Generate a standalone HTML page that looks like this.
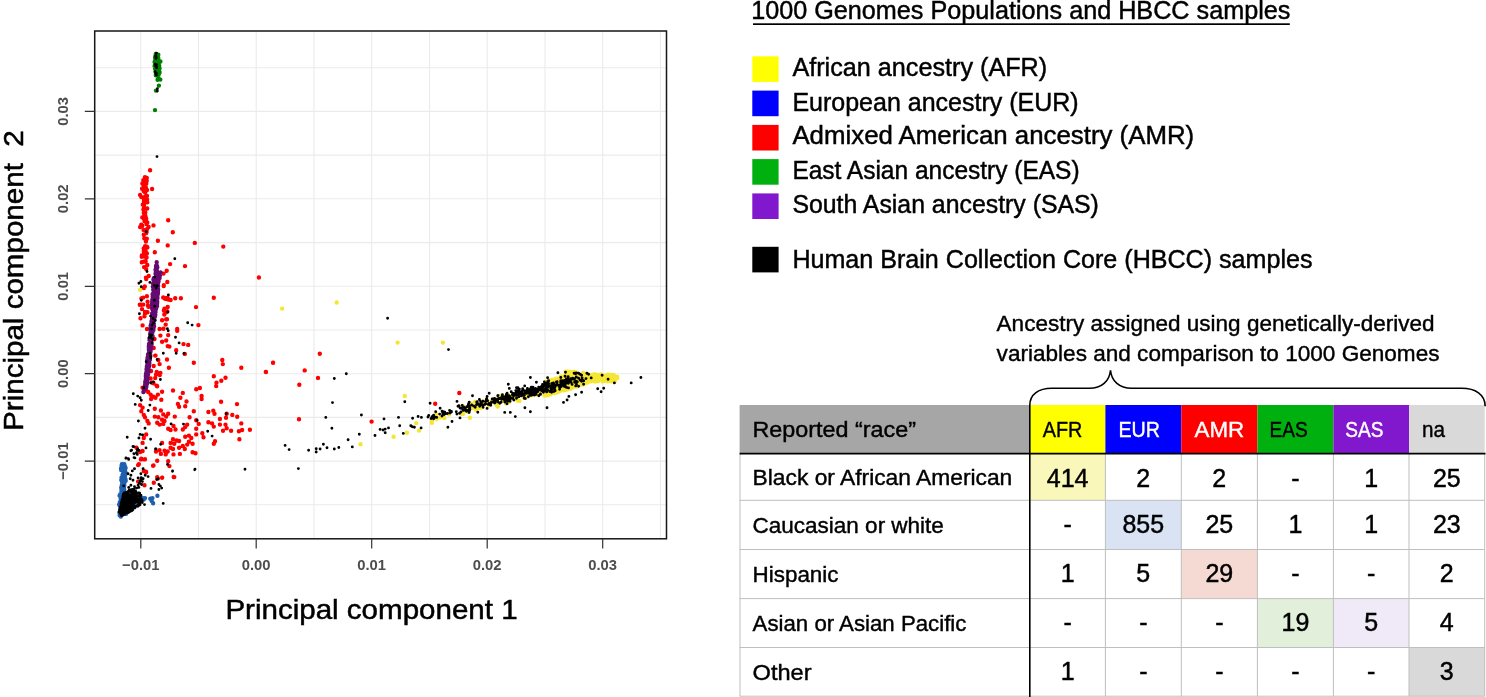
<!DOCTYPE html>
<html lang="en"><head><meta charset="utf-8"><title>PCA ancestry figure</title>
<style>html,body{margin:0;padding:0;background:#fff}body{width:1486px;height:697px;overflow:hidden}svg{display:block}text{font-family:"Liberation Sans",sans-serif;fill:#000}.tk{font-weight:bold;font-size:14.8px;fill:#4d4d4d;text-anchor:middle}.ax{font-size:28px}.lg{font-size:25px}.tb{font-size:22px}.nm{font-size:25px;text-anchor:middle}.ax,.lg,.tb,.nm{stroke:#000;stroke-width:.45px}.ax{stroke-width:.5px}.tb{stroke-width:.4px}.w{fill:#fff;stroke:#fff}</style></head><body>
<svg width="1486" height="697" viewBox="0 0 1486 697">
<rect width="1486" height="697" fill="#fff"/>
<path d="M140.8 31.0V538.8M198.5 31.0V538.8M256.2 31.0V538.8M314.0 31.0V538.8M371.7 31.0V538.8M429.5 31.0V538.8M487.2 31.0V538.8M545.0 31.0V538.8M602.7 31.0V538.8M660.5 31.0V538.8M94.7 504.8H666.5M94.7 461.1H666.5M94.7 417.4H666.5M94.7 373.7H666.5M94.7 330.0H666.5M94.7 286.3H666.5M94.7 242.6H666.5M94.7 198.8H666.5M94.7 155.1H666.5M94.7 111.4H666.5M94.7 67.7H666.5" stroke="#ebebeb" stroke-width="1.1" fill="none"/>
<path d="M140.1 289.8h0M282.1 308.6h0M336.7 302.5h0M397.6 342.6h0M442.8 342.6h0M404.8 396.0h0M360.5 444.2h0M393.6 436.7h0M406.9 432.7h0M416.2 423.1h0M419.0 430.6h0M431.9 422.8h0M469.9 417.7h0M463.0 414.0h0M482.0 407.3h0M475.1 401.8h0M506.6 398.1h0M491.5 402.1h0M516.3 395.5h0M516.5 393.9h0M496.4 401.9h0M534.5 393.4h0M536.8 393.6h0M528.9 393.9h0M479.3 404.7h0M536.4 394.2h0M533.0 394.8h0M542.7 389.2h0M486.6 400.3h0M484.4 402.6h0M496.7 405.2h0M480.3 408.1h0M476.3 405.8h0M517.9 400.5h0M508.5 401.5h0M482.4 401.4h0M509.4 399.6h0M477.2 407.9h0M471.4 404.5h0M519.5 400.9h0M472.3 408.1h0M509.0 402.2h0M467.2 411.6h0M514.9 399.3h0M471.7 407.9h0M513.9 395.8h0M509.0 395.4h0M497.8 406.5h0M500.1 395.9h0M547.0 389.3h0M528.9 390.4h0M518.0 395.8h0M544.6 395.3h0M483.0 403.9h0M512.2 396.3h0M529.9 394.9h0M483.4 403.9h0M500.4 397.7h0M523.7 394.3h0M547.9 382.5h0M531.4 393.6h0M506.1 403.2h0M543.1 389.0h0M467.1 409.6h0M504.0 397.7h0M473.7 406.6h0M505.2 401.0h0M501.8 401.0h0M493.9 398.9h0M497.2 401.3h0M476.1 409.8h0M545.5 391.2h0M488.3 402.0h0M526.6 396.8h0M505.9 399.5h0M476.0 406.2h0M482.1 403.1h0M497.0 403.3h0M545.2 387.7h0M545.0 392.2h0M518.3 392.7h0M492.8 399.6h0M468.0 411.7h0M513.3 397.0h0M470.5 407.8h0M518.4 394.2h0M488.5 405.4h0M487.9 402.2h0M539.2 392.5h0M505.4 401.6h0M546.4 392.0h0M531.1 395.2h0M471.2 403.8h0M524.2 397.8h0M461.7 413.8h0M444.3 418.0h0M462.6 405.6h0M449.1 414.4h0M440.3 417.4h0M432.0 420.1h0M436.6 418.9h0M464.5 407.6h0M436.0 414.5h0M434.3 417.7h0M556.3 380.5h0M578.2 374.3h0M567.0 388.7h0M549.1 386.9h0M563.1 389.4h0M554.3 393.1h0M551.8 387.2h0M602.5 376.4h0M617.3 377.9h0M560.9 377.6h0M549.7 394.3h0M570.4 371.9h0M551.3 386.3h0M568.4 383.7h0M553.0 380.1h0M563.6 390.4h0M552.8 381.3h0M607.8 374.6h0M589.3 378.9h0M582.5 375.5h0M592.6 374.9h0M584.7 383.5h0M587.2 378.9h0M576.3 386.5h0M591.5 378.4h0M567.9 384.2h0M545.5 385.9h0M565.5 381.0h0M583.6 381.6h0M581.2 375.8h0M613.8 375.2h0M591.0 380.5h0M594.5 377.4h0M594.8 376.9h0M587.5 375.6h0M563.1 384.8h0M578.9 376.2h0M580.3 377.1h0M558.7 385.3h0M600.7 374.5h0M546.7 393.1h0M588.8 374.8h0M550.5 391.8h0M569.4 386.7h0M596.4 374.7h0M551.8 382.3h0M568.7 379.5h0M547.4 390.2h0M580.6 381.5h0M580.6 381.0h0M564.5 385.4h0M561.0 383.7h0M593.0 376.1h0M601.4 375.0h0M601.8 379.5h0M553.6 391.6h0M572.6 371.9h0M570.2 388.7h0M565.1 383.9h0M606.5 377.4h0M570.9 386.4h0M549.2 390.3h0M583.8 375.9h0M560.6 381.9h0M582.3 377.1h0M549.5 394.1h0M607.7 381.3h0M575.6 379.9h0M568.3 385.4h0M549.5 393.3h0M571.1 388.0h0M558.5 378.8h0M557.3 383.0h0M548.4 385.3h0M570.7 386.1h0M576.7 385.9h0M564.6 380.9h0M554.5 386.3h0M547.4 382.9h0M563.4 386.7h0M576.4 378.0h0M582.7 384.0h0M558.2 386.0h0M570.1 371.9h0M613.0 377.7h0M567.6 376.2h0M596.7 377.6h0M550.4 382.2h0M557.7 387.8h0M561.4 378.6h0M587.0 381.2h0M576.8 377.4h0M591.5 379.9h0M571.7 375.7h0M559.6 387.6h0M545.8 395.4h0M575.6 380.2h0M564.4 388.3h0M565.9 376.2h0M605.8 379.1h0M585.3 374.1h0M580.2 383.0h0M559.1 382.2h0M603.7 379.0h0M546.4 391.3h0M581.0 378.6h0M585.4 378.5h0M587.1 376.2h0M558.9 388.5h0M556.1 378.8h0M545.6 390.7h0M579.4 377.8h0M549.6 383.4h0M596.2 379.3h0M609.0 374.7h0M578.6 383.8h0M560.7 387.9h0M584.1 377.6h0M595.3 379.3h0M584.4 374.2h0M550.9 392.7h0M608.4 379.8h0M607.9 376.9h0M577.4 384.5h0M573.2 375.3h0M570.9 379.8h0M565.4 389.7h0M559.4 380.7h0M582.5 376.1h0M582.0 376.5h0M561.4 377.5h0M550.6 384.5h0M557.6 388.4h0M604.3 377.4h0M565.0 388.1h0M600.9 378.8h0M571.9 380.4h0M593.6 380.4h0M556.0 390.9h0M614.8 380.9h0M559.0 388.9h0M544.5 386.7h0M550.3 385.1h0M583.2 376.6h0M560.4 386.1h0M568.1 381.6h0M605.5 380.5h0M561.7 381.8h0M554.4 389.9h0M545.2 389.3h0M597.2 377.7h0M549.4 384.1h0M587.8 375.5h0M598.7 378.3h0M590.9 378.0h0M590.3 380.2h0M609.8 379.6h0M581.1 375.4h0M544.5 395.6h0M559.3 378.9h0M571.7 387.5h0M552.2 383.4h0M594.5 379.4h0M567.7 372.3h0M569.3 377.0h0M554.0 386.0h0M545.1 387.9h0M603.1 378.3h0M567.1 376.8h0M595.3 381.5h0M607.2 378.8h0M594.1 377.7h0M564.0 379.9h0M577.9 380.4h0M610.2 376.5h0M557.7 390.5h0M612.4 377.2h0M566.6 375.6h0M581.4 375.9h0M555.5 383.5h0M550.8 381.4h0M566.3 372.3h0M600.1 375.0h0M592.1 379.1h0M594.0 377.7h0M590.2 380.7h0M564.7 376.0h0M544.4 394.2h0M597.5 378.0h0M578.2 381.8h0M552.9 383.9h0M570.3 376.4h0M571.6 387.0h0M555.9 392.5h0M603.8 375.5h0M570.1 384.1h0M601.0 377.0h0M544.5 386.5h0M557.2 380.2h0M562.4 380.0h0M565.9 384.4h0M547.8 386.8h0M617.0 378.0h0M599.7 376.1h0M546.9 382.1h0M558.0 391.4h0M602.7 381.4h0M555.9 384.2h0M603.9 380.1h0M569.0 372.9h0M600.8 376.4h0M596.3 379.6h0M546.9 384.7h0M594.9 374.5h0M580.4 379.6h0M574.8 377.9h0M560.5 388.0h0M606.9 378.2h0M572.8 387.3h0M569.7 381.3h0M558.1 388.3h0M563.0 387.1h0M545.0 389.2h0M549.5 390.0h0M608.5 378.1h0M603.2 380.8h0M559.5 380.9h0M592.9 377.2h0M545.7 393.0h0M552.5 387.1h0M583.1 374.2h0M550.9 385.3h0M557.4 386.2h0M552.3 384.7h0M588.9 377.5h0M583.2 379.4h0M550.7 394.3h0M573.7 383.7h0M572.4 374.8h0M589.9 375.5h0M557.0 389.0h0M555.1 386.4h0M557.3 392.3h0M576.8 378.9h0M553.3 383.4h0M577.4 380.2h0M567.2 371.7h0M591.4 377.2h0M553.7 380.1h0M572.3 378.7h0M548.5 383.8h0M560.2 390.7h0M575.3 377.3h0M582.9 384.4h0M580.6 383.3h0M552.7 379.6h0M580.6 384.7h0M580.9 382.1h0M582.6 383.1h0M547.2 387.8h0M563.8 378.9h0M613.1 376.3h0M567.1 372.8h0M547.8 383.9h0M553.1 390.0h0M586.8 376.2h0M559.4 380.5h0M583.4 380.6h0M614.6 378.0h0M569.1 387.7h0M560.5 387.9h0M577.6 380.1h0M563.7 388.7h0M577.6 377.3h0M566.2 374.9h0M567.9 386.7h0M576.3 377.6h0M565.9 383.1h0M545.3 381.6h0M560.9 376.4h0M609.9 379.2h0M581.8 382.9h0M548.3 388.8h0M572.4 386.4h0M571.5 379.6h0M606.4 376.5h0M573.2 374.1h0M546.0 389.4h0M546.1 386.0h0M592.3 377.7h0M564.1 385.1h0M590.3 379.0h0M607.2 379.1h0M577.2 379.3h0M571.7 383.1h0M590.7 376.1h0M613.3 376.7h0M587.0 382.6h0M617.1 376.8h0M556.7 382.5h0M549.3 381.9h0M567.1 379.1h0M571.0 387.9h0M591.9 378.7h0M554.4 392.1h0M549.0 380.7h0M568.0 384.6h0M571.2 385.2h0M575.8 376.6h0M573.8 384.4h0M583.6 373.1h0M583.2 373.0h0M613.3 377.2h0M580.8 378.7h0M568.9 377.9h0M570.1 381.9h0M546.5 394.5h0M560.2 384.8h0M571.1 379.2h0M572.4 380.8h0M599.0 379.2h0M573.1 385.1h0M571.0 377.7h0M569.5 386.3h0M591.8 379.8h0M581.1 375.8h0M577.3 374.8h0M544.3 390.0h0M557.7 382.9h0M563.5 379.6h0M571.9 385.6h0M611.5 381.4h0M588.4 379.2h0M574.7 384.7h0M567.1 371.6h0M551.9 387.3h0M613.9 376.7h0M571.8 377.4h0M593.8 374.4h0M554.0 388.8h0M595.4 377.2h0M548.1 385.7h0M566.4 383.9h0M576.2 375.1h0M570.4 374.6h0M579.5 380.1h0M601.5 377.9h0M558.0 387.9h0M560.5 381.4h0M573.3 374.9h0M550.8 382.8h0M606.9 378.0h0M563.5 383.8h0M570.9 380.9h0M601.5 375.1h0M567.9 381.9h0M562.8 383.3h0M587.4 381.2h0M577.3 384.3h0M612.0 377.0h0M556.2 381.7h0M546.1 383.7h0M584.2 378.2h0M544.9 385.1h0M550.8 382.1h0M573.8 379.1h0M550.3 391.0h0M572.3 372.1h0M559.2 391.2h0M567.0 389.4h0M551.8 383.9h0M588.3 381.1h0M592.7 379.3h0M600.7 375.0h0M549.0 381.9h0M575.9 378.3h0M593.6 375.4h0M591.7 381.1h0M564.8 381.3h0M613.9 380.8h0M547.3 390.3h0M552.7 384.5h0M577.2 386.2h0M547.4 390.4h0M595.1 380.9h0M550.2 390.3h0M571.2 379.2h0M554.5 380.4h0M598.1 381.1h0M552.0 389.0h0M558.8 385.8h0M589.8 377.8h0M562.1 389.3h0M547.9 388.1h0M576.0 373.6h0M565.7 372.0h0M600.5 376.6h0M549.7 387.8h0M586.2 374.7h0M594.0 380.8h0M548.0 395.1h0M574.3 381.1h0M552.8 384.8h0M595.7 377.6h0M612.1 377.1h0M578.3 383.8h0M551.1 384.4h0M574.9 383.6h0M562.2 388.1h0M571.6 381.4h0M610.9 378.3h0M554.8 383.1h0M547.5 389.8h0M550.3 380.4h0M554.1 384.6h0M564.7 381.7h0M606.9 380.8h0M574.3 378.1h0M550.5 393.7h0M574.1 372.0h0M575.9 372.8h0M544.9 394.2h0M599.8 377.2h0M565.2 381.1h0M561.6 387.4h0M581.5 377.0h0M586.4 377.2h0M585.6 375.2h0M609.1 380.9h0M551.1 387.8h0M574.5 385.5h0M567.7 374.7h0M568.1 381.5h0M611.9 377.0h0M552.1 384.4h0M595.6 375.6h0M564.0 385.6h0M563.1 382.2h0M577.0 375.4h0M544.2 389.4h0M555.1 382.7h0M572.4 376.3h0M590.6 381.4h0M551.9 383.7h0M571.1 386.8h0M551.5 388.8h0M563.2 381.3h0M579.7 377.2h0M573.1 372.3h0M552.4 391.9h0M563.5 379.3h0M585.1 376.8h0M578.7 384.1h0M571.3 374.4h0M584.3 383.0h0M586.2 378.9h0M590.0 380.3h0M566.6 380.9h0M576.4 372.7h0M603.8 377.3h0M562.6 380.2h0M574.6 372.0h0M576.8 373.6h0M547.5 387.6h0M586.7 379.7h0M551.0 381.4h0M565.5 371.7h0M604.1 379.8h0M545.9 393.5h0M583.7 378.6h0M579.1 381.4h0M544.8 392.6h0M553.8 389.1h0M583.7 373.3h0M596.4 378.6h0M572.2 383.1h0M576.6 382.5h0M554.8 387.5h0M561.9 378.3h0M595.1 374.5h0M587.4 380.3h0M565.6 384.7h0M582.1 383.8h0M572.0 387.4h0M555.6 385.8h0M559.8 389.7h0M564.4 380.9h0M555.8 385.0h0M594.8 377.1h0M548.9 391.3h0M567.5 381.0h0M552.2 382.9h0M566.1 389.8h0M566.8 383.2h0M568.9 378.7h0M555.0 383.6h0M583.0 381.0h0M548.9 390.8h0M569.6 384.9h0M585.6 379.1h0M613.1 380.0h0M562.9 378.7h0M583.0 376.5h0M557.2 381.6h0M571.4 373.9h0M561.6 377.7h0M594.6 381.3h0M569.6 375.5h0M580.4 375.6h0M598.5 378.7h0M563.3 377.2h0M571.3 387.3h0M571.5 373.8h0M612.1 375.0h0M553.7 387.1h0M571.5 375.2h0M577.7 374.2h0M585.9 376.0h0M576.2 384.9h0M555.5 381.0h0" stroke="#f5e633" stroke-width="4.4" stroke-linecap="round" fill="none"/>
<path d="M123.3 480.9h0M121.2 493.6h0M123.2 487.7h0M125.1 475.2h0M123.3 476.1h0M124.7 481.3h0M123.1 471.0h0M123.7 477.9h0M122.1 491.3h0M122.5 491.3h0M122.3 480.6h0M125.7 480.7h0M123.8 485.6h0M122.5 474.9h0M123.8 473.9h0M123.8 484.9h0M124.5 465.3h0M123.0 493.2h0M122.4 465.6h0M121.9 464.2h0M123.2 494.4h0M123.8 485.7h0M123.2 494.0h0M123.2 484.4h0M123.1 487.0h0M121.8 486.5h0M122.7 486.0h0M121.5 489.2h0M121.2 470.0h0M124.2 489.6h0M122.4 485.6h0M123.8 491.1h0M122.2 482.5h0M123.0 474.0h0M123.1 474.5h0M124.3 485.2h0M123.7 465.8h0M121.6 465.3h0M123.1 490.7h0M122.6 494.3h0M122.9 464.5h0M124.3 483.5h0M122.7 496.4h0M121.5 477.6h0M121.8 485.3h0M121.1 469.0h0M124.3 464.2h0M125.6 468.0h0M125.2 466.9h0M121.1 468.3h0M121.9 487.7h0M121.7 488.2h0M124.7 465.7h0M124.0 487.5h0M121.4 488.1h0M123.5 484.7h0M125.5 479.2h0M125.6 472.4h0M121.2 487.7h0M124.1 464.5h0M121.4 491.0h0M124.5 474.3h0M125.1 469.5h0M121.3 480.0h0M123.8 476.1h0M124.2 478.5h0M124.8 468.8h0M124.1 476.0h0M122.5 484.8h0M124.8 476.7h0M134.4 499.6h0M127.6 507.8h0M135.4 500.0h0M128.9 509.8h0M141.4 499.4h0M130.3 507.3h0M134.6 499.1h0M123.8 511.5h0M145.0 498.1h0M131.5 497.4h0M125.4 511.5h0M120.5 513.0h0M140.4 498.1h0M131.8 507.3h0M123.5 497.0h0M123.2 510.2h0M128.5 506.7h0M129.7 505.4h0M121.1 508.5h0M135.3 501.0h0M134.4 498.8h0M123.8 496.7h0M135.3 502.3h0M125.5 506.7h0M137.4 502.2h0M131.0 496.2h0M125.4 501.2h0M119.6 495.8h0M137.6 499.8h0M121.1 500.4h0M125.5 495.2h0M132.0 496.4h0M124.9 495.7h0M138.8 497.1h0M122.1 503.6h0M131.1 500.8h0M125.7 502.7h0M122.5 499.0h0M122.9 504.8h0M119.6 515.3h0M137.4 497.5h0M131.8 499.4h0M125.5 497.2h0M120.8 499.5h0M139.1 499.6h0M141.4 500.9h0M123.4 503.3h0M123.2 512.0h0M138.6 497.1h0M120.3 494.3h0M135.6 504.9h0M125.9 497.4h0M139.2 502.6h0M141.5 500.7h0M143.3 498.9h0M123.4 513.6h0M128.6 496.3h0M128.8 507.5h0M130.9 505.4h0M121.5 510.6h0M127.3 510.5h0M119.8 514.7h0M132.9 505.8h0M123.3 494.7h0M138.3 497.1h0M134.7 505.6h0M132.3 505.0h0M126.1 495.2h0M129.8 495.6h0M122.3 506.9h0M129.3 502.9h0M140.5 500.8h0M125.0 500.7h0M119.6 505.5h0M125.2 503.0h0M136.3 501.5h0M130.6 505.1h0M136.6 498.9h0M137.7 499.1h0M136.0 498.5h0M133.1 503.3h0M126.9 508.8h0M121.5 507.5h0M125.8 504.1h0M121.6 495.4h0M126.5 502.6h0M126.4 498.3h0M120.5 506.2h0M123.8 510.5h0M131.4 506.2h0M135.8 504.2h0M127.0 498.3h0M124.4 505.3h0M129.1 507.2h0M143.0 498.2h0M134.1 504.8h0M119.8 502.1h0M121.2 497.9h0M122.5 500.8h0M128.2 509.6h0M134.6 502.9h0M135.6 501.9h0M131.1 503.9h0M139.0 499.6h0M129.3 506.4h0M129.2 500.4h0M132.5 503.5h0M123.3 499.9h0M122.2 507.0h0M134.4 504.9h0M133.0 505.4h0M137.9 502.1h0M128.4 507.5h0M120.9 501.7h0M129.6 506.6h0M130.8 508.2h0M123.0 500.3h0M122.5 499.5h0M132.8 505.1h0M123.5 496.7h0M126.9 510.0h0M137.4 497.1h0M132.4 506.4h0M125.7 508.8h0M134.7 502.7h0M121.5 496.1h0M120.9 496.4h0M140.3 500.4h0M138.7 501.2h0M122.9 498.9h0M120.9 515.5h0M134.9 501.1h0M131.0 502.0h0M119.6 515.2h0M130.7 508.1h0M141.7 499.9h0M125.0 502.1h0M138.8 497.8h0M125.1 496.5h0M128.4 496.9h0M133.5 502.0h0M121.6 513.5h0M128.2 498.4h0M123.5 499.4h0M137.3 500.9h0M122.5 510.4h0M120.7 499.0h0M132.6 497.9h0M138.5 498.8h0M128.7 498.4h0M135.6 497.5h0M132.9 506.1h0M125.8 512.1h0M129.2 509.1h0M134.5 500.1h0M127.3 509.2h0M121.2 506.6h0M128.5 505.0h0M127.0 497.9h0M121.7 510.6h0M157.4 495.7h0M150.3 498.8h0M152.4 498.1h0M151.7 501.0h0M153.1 503.2h0M142.4 498.1h0M140.9 497.4h0M143.8 499.6h0M138.1 501.7h0M135.9 505.3h0M133.0 507.5h0M130.9 510.3h0M125.9 513.9h0M120.8 516.5h0M119.4 512.5h0M119.1 504.6h0M132.3 508.9h0" stroke="#1f5fb0" stroke-width="4.4" stroke-linecap="round" fill="none"/>
<path d="M146.2 200.6h0M144.8 185.2h0M144.9 177.2h0M143.7 198.3h0M143.4 209.6h0M144.1 200.3h0M144.8 202.0h0M143.9 202.2h0M144.2 188.2h0M147.1 199.8h0M144.8 202.3h0M141.3 196.9h0M142.8 204.6h0M144.5 208.2h0M142.9 197.4h0M144.2 219.4h0M147.2 208.5h0M142.1 188.7h0M147.3 202.2h0M143.6 183.2h0M144.1 182.5h0M144.8 187.8h0M143.3 180.3h0M142.3 217.4h0M144.1 184.0h0M142.4 183.4h0M145.6 216.7h0M144.4 219.9h0M140.1 194.9h0M145.0 214.5h0M143.0 184.3h0M145.4 192.3h0M143.6 185.8h0M146.8 177.9h0M144.3 201.9h0M144.7 191.9h0M144.1 205.1h0M144.6 221.3h0M145.3 212.5h0M144.5 189.0h0M144.8 178.8h0M143.4 182.8h0M147.0 196.0h0M143.1 188.6h0M146.3 183.7h0M143.7 208.5h0M146.7 181.0h0M145.4 196.1h0M146.6 180.3h0M143.8 213.1h0M144.9 180.8h0M144.2 215.8h0M143.6 197.4h0M146.2 218.7h0M145.9 189.1h0M145.9 187.7h0M144.9 181.9h0M145.0 186.1h0M143.7 191.0h0M147.0 190.0h0M146.6 232.0h0M147.3 222.4h0M148.6 227.0h0M146.3 233.0h0M142.3 225.8h0M146.6 224.1h0M144.3 238.4h0M146.8 238.7h0M143.6 229.9h0M145.9 241.6h0M147.2 228.9h0M143.8 234.7h0M144.8 252.5h0M145.7 248.1h0M145.1 247.1h0M143.7 248.6h0M147.4 247.4h0M141.8 256.7h0M145.3 250.5h0M146.9 253.4h0M143.7 248.5h0M145.7 261.4h0M143.8 261.6h0M144.8 261.5h0M145.1 251.0h0M145.3 252.1h0M143.9 253.6h0M145.2 254.1h0M145.1 246.1h0M146.1 252.4h0M146.9 246.7h0M145.4 249.7h0M141.9 255.4h0M144.6 256.5h0M146.6 257.5h0M143.8 251.2h0M147.0 329.0h0M147.9 305.7h0M147.3 265.0h0M139.8 304.7h0M145.0 311.9h0M143.2 297.6h0M146.9 296.3h0M140.5 318.2h0M147.6 301.7h0M142.0 309.1h0M145.9 277.6h0M144.8 286.5h0M146.2 269.1h0M141.6 304.7h0M143.2 304.6h0M141.8 262.2h0M144.5 316.2h0M141.4 298.4h0M148.4 306.8h0M146.2 279.1h0M144.1 267.1h0M148.7 276.0h0M147.5 312.3h0M144.0 288.0h0M165.1 298.7h0M167.7 307.0h0M164.5 308.6h0M163.8 285.2h0M164.3 314.6h0M166.7 270.7h0M163.5 273.6h0M167.4 311.5h0M163.9 310.5h0M166.5 297.9h0M167.7 298.0h0M167.3 282.0h0M163.5 328.7h0M163.2 297.5h0M166.2 319.2h0M163.7 286.1h0M150.1 170.2h0M152.1 189.0h0M168.2 220.2h0M153.5 225.4h0M172.8 232.2h0M157.9 240.7h0M167.7 245.4h0M194.8 242.9h0M223.3 246.6h0M154.8 252.2h0M170.1 264.1h0M185.0 266.1h0M258.9 277.6h0M213.8 297.8h0M180.9 298.3h0M175.2 298.3h0M170.6 300.0h0M168.2 299.5h0M196.0 307.1h0M198.4 325.1h0M177.2 329.0h0M140.1 227.1h0M141.3 224.6h0M145.0 313.7h0M142.6 325.4h0M165.7 312.4h0M167.0 319.3h0M162.1 320.2h0M165.7 324.6h0M159.6 329.0h0M177.2 330.7h0M160.4 335.6h0M168.2 335.1h0M162.1 341.7h0M166.2 340.5h0M169.4 346.6h0M167.7 346.1h0M183.5 344.1h0M188.2 344.9h0M176.2 350.2h0M184.8 353.9h0M155.5 355.6h0M167.0 359.5h0M193.8 362.7h0M159.6 364.1h0M168.9 367.8h0M222.3 360.0h0M222.8 364.1h0M241.3 367.8h0M273.0 362.7h0M266.0 372.0h0M151.1 371.0h0M156.0 374.6h0M160.4 372.9h0M213.8 376.3h0M225.5 377.8h0M221.3 380.7h0M216.5 382.7h0M216.2 386.1h0M153.5 383.2h0M157.2 386.3h0M143.8 388.0h0M146.2 390.5h0M142.6 387.6h0M196.2 389.3h0M199.9 388.0h0M173.0 390.5h0M182.8 392.9h0M162.1 391.7h0M157.9 394.6h0M153.5 396.6h0M151.1 399.0h0M155.5 397.8h0M161.3 399.8h0M180.4 397.8h0M186.5 401.5h0M201.6 395.9h0M201.6 399.0h0M221.1 401.7h0M237.0 404.1h0M177.9 403.9h0M179.1 406.8h0M185.2 406.3h0M140.1 405.1h0M142.6 407.6h0M141.3 411.2h0M154.8 408.8h0M160.9 410.5h0M193.8 411.2h0M208.4 412.0h0M213.3 410.7h0M214.5 413.7h0M226.7 413.7h0M232.3 414.9h0M237.2 416.8h0M226.0 417.8h0M219.9 419.0h0M143.8 414.9h0M145.0 417.3h0M147.4 421.0h0M148.7 423.4h0M154.8 416.6h0M158.4 417.3h0M163.3 414.4h0M166.2 416.6h0M168.2 413.7h0M162.1 419.8h0M164.5 421.0h0M157.2 422.7h0M159.6 424.6h0M163.3 423.9h0M174.8 416.6h0M189.6 417.3h0M196.2 420.2h0M198.7 423.9h0M208.4 422.2h0M212.1 423.4h0M213.8 426.6h0M219.9 424.6h0M225.5 424.6h0M241.3 423.4h0M226.7 428.3h0M223.0 430.7h0M231.1 430.7h0M238.9 431.2h0M242.1 430.0h0M249.9 429.8h0M168.2 428.8h0M170.6 430.0h0M175.5 429.5h0M173.5 425.9h0M182.8 429.5h0M185.2 427.1h0M187.2 424.6h0M196.2 428.8h0M202.3 433.2h0M196.2 434.4h0M203.5 437.3h0M215.0 441.2h0M213.8 443.7h0M239.4 439.3h0M188.9 435.6h0M191.3 438.0h0M185.2 436.8h0M173.0 439.3h0M176.7 440.5h0M179.1 441.0h0M170.6 442.9h0M174.3 443.7h0M162.1 442.9h0M188.9 441.7h0M192.6 443.7h0M187.2 444.6h0M182.8 445.9h0M179.1 447.8h0M184.8 449.0h0M173.0 449.0h0M170.6 447.8h0M167.7 451.5h0M164.5 450.7h0M159.6 450.2h0M156.0 451.5h0M160.9 453.9h0M165.7 454.4h0M173.5 454.4h0M179.9 453.9h0M192.6 452.2h0M195.5 453.2h0M142.6 451.0h0M140.1 452.0h0M141.3 458.8h0M145.0 459.3h0M138.9 464.1h0M153.5 465.4h0M157.2 460.7h0M168.2 461.2h0M169.4 466.1h0M143.8 471.0h0M146.2 472.2h0M157.2 477.1h0M162.1 477.8h0M174.3 477.1h0M146.2 434.4h0M143.8 438.0h0M142.6 442.9h0M136.5 447.8h0M150.9 343.6h0M153.7 348.0h0M155.2 355.6h0M158.3 360.0h0M153.7 366.0h0M156.7 372.0h0M159.8 375.0h0M155.2 378.0h0M152.2 382.7h0M156.7 385.7h0M148.2 392.0h0M150.7 394.8h0M151.5 336.0h0M154.5 339.0h0M149.5 371.0h0M150.6 378.5h0M146.0 471.6h0M144.5 471.3h0M153.8 482.8h0M157.7 478.5h0M162.2 477.6h0M173.7 477.0h0M144.5 485.2h0M138.1 481.6h0M138.1 465.1h0M153.1 465.8h0M140.9 459.4h0M144.5 459.4h0M258.9 277.5h0M273.1 362.8h0M265.8 371.9h0M304.7 370.4h0M319.8 353.8h0M318.0 377.9h0M299.3 384.8h0M299.0 419.2h0M371.6 421.6h0M435.2 403.8h0M459.3 393.0h0" stroke="#ff0000" stroke-width="4.4" stroke-linecap="round" fill="none"/>
<path d="M155.2 61.2h0M155.1 68.3h0M156.3 65.8h0M156.9 55.5h0M156.7 55.0h0M155.7 55.7h0M158.5 63.4h0M156.1 56.9h0M159.3 67.8h0M156.7 66.7h0M155.8 75.3h0M156.2 72.7h0M155.1 57.3h0M158.4 60.9h0M157.3 58.1h0M156.6 68.0h0M155.1 66.0h0M156.0 55.5h0M156.9 68.9h0M157.3 61.0h0M155.9 64.0h0M158.2 71.4h0M157.3 59.5h0M158.7 65.5h0M156.2 70.0h0M156.1 75.4h0M158.1 63.2h0M156.8 57.5h0M157.4 55.0h0M157.6 70.7h0M156.3 73.1h0M157.7 69.2h0M157.0 66.7h0M159.3 72.3h0M157.7 64.4h0M157.5 55.5h0M159.6 68.2h0M156.2 72.0h0M157.7 62.5h0M156.8 54.7h0M155.1 57.8h0M157.7 55.5h0M156.1 57.0h0M158.7 62.6h0M156.7 55.9h0M159.0 66.1h0M158.9 71.9h0M156.5 60.2h0M158.7 61.9h0M156.2 74.9h0M155.6 58.0h0M156.8 59.2h0M156.1 66.9h0M156.7 54.3h0M157.2 62.2h0M157.8 74.8h0M157.5 65.3h0M155.1 68.8h0M158.5 73.6h0M158.6 73.1h0M156.4 62.7h0M157.3 56.4h0M155.6 55.5h0M155.3 58.7h0M154.8 61.5h0M155.9 54.2h0M156.5 56.4h0M158.0 54.8h0M155.5 67.5h0M156.2 59.6h0M155.1 62.1h0M159.6 72.5h0M156.8 64.3h0M155.7 56.1h0M155.8 61.6h0M155.6 72.1h0M158.3 54.7h0M155.2 65.6h0M154.6 65.9h0M159.2 65.6h0M158.1 72.8h0M156.3 59.8h0M158.2 57.8h0M158.2 65.7h0M155.6 61.3h0M159.5 71.7h0M158.7 72.6h0M158.4 71.9h0M157.0 59.1h0M154.6 61.9h0M156.2 54.8h0M157.8 59.8h0M157.0 74.9h0M158.7 74.4h0M156.8 74.8h0M155.6 59.0h0M155.5 58.4h0M159.1 67.7h0M157.1 72.4h0M158.6 68.3h0M157.4 56.0h0M158.6 73.9h0M157.1 70.4h0M158.3 58.1h0M158.3 61.4h0M156.9 75.2h0M159.0 62.9h0M155.6 69.9h0M155.9 56.9h0M158.7 73.7h0M158.9 85.6h0M155.0 110.1h0M160.3 79.6h0M157.6 79.8h0M158.8 78.5h0M160.4 61.5h0M156.0 90.6h0M155.8 54.0h0" stroke="#008000" stroke-width="4.4" stroke-linecap="round" fill="none"/>
<path d="M157.9 291.8h0M155.9 291.9h0M155.9 283.4h0M145.3 383.2h0M147.9 366.9h0M147.4 375.1h0M157.5 294.5h0M150.6 325.8h0M156.5 266.4h0M152.1 321.4h0M154.9 283.3h0M156.4 304.9h0M157.0 266.2h0M146.5 369.2h0M146.9 379.9h0M146.3 376.9h0M153.5 311.8h0M145.3 388.9h0M153.8 310.4h0M152.3 299.8h0M157.9 278.5h0M157.2 301.1h0M153.8 296.7h0M150.9 328.8h0M155.5 311.9h0M147.6 374.8h0M151.5 343.6h0M146.4 381.7h0M148.0 354.5h0M148.9 356.1h0M149.1 358.6h0M152.2 301.2h0M145.7 380.0h0M152.0 324.1h0M156.0 302.6h0M145.3 386.1h0M149.5 346.7h0M151.0 334.6h0M153.8 286.6h0M157.7 291.6h0M151.2 327.1h0M147.7 377.5h0M151.5 321.3h0M153.2 289.7h0M152.0 308.1h0M153.8 295.4h0M152.6 336.1h0M148.5 358.2h0M153.4 316.9h0M153.2 312.4h0M155.9 273.6h0M145.1 385.0h0M152.6 327.9h0M146.7 372.1h0M153.5 299.3h0M153.3 315.2h0M146.8 383.3h0M146.1 373.4h0M156.8 270.0h0M146.8 376.2h0M149.6 338.2h0M155.2 314.2h0M148.7 367.5h0M145.3 385.6h0M154.1 279.4h0M152.5 330.3h0M146.7 381.8h0M150.9 345.6h0M152.9 322.3h0M156.9 270.9h0M157.6 294.6h0M149.7 345.4h0M154.5 281.7h0M150.8 344.3h0M153.6 279.8h0M152.1 330.5h0M152.7 313.7h0M149.5 339.9h0M154.4 303.1h0M146.3 383.9h0M146.9 374.7h0M153.8 294.9h0M146.4 384.2h0M151.9 303.8h0M152.8 327.3h0M152.4 317.7h0M151.0 348.1h0M152.7 293.9h0M153.9 307.6h0M148.9 350.0h0M148.8 364.0h0M151.0 328.1h0M145.5 385.3h0M147.1 366.9h0M156.8 293.2h0M157.2 302.3h0M151.1 327.0h0M154.8 293.5h0M151.1 347.8h0M155.2 284.0h0M158.0 292.2h0M153.3 283.5h0M156.1 273.4h0M147.6 376.5h0M150.4 356.1h0M146.0 380.6h0M158.0 288.8h0M147.6 357.8h0M149.6 347.7h0M153.3 312.0h0M152.9 286.8h0M154.0 300.4h0M145.3 383.5h0M145.3 384.6h0M155.3 309.9h0M147.6 367.1h0M156.3 272.1h0M155.4 311.8h0M154.7 289.7h0M145.8 376.3h0M154.5 316.5h0M147.3 360.3h0M155.6 270.3h0M146.0 379.2h0M149.9 357.9h0M153.0 307.7h0M146.3 383.8h0M156.2 298.2h0M153.2 304.9h0M157.0 266.5h0M146.8 378.7h0M145.2 382.0h0M155.1 294.8h0M147.0 383.7h0M152.8 313.5h0M153.1 318.9h0M145.8 380.2h0M148.7 364.7h0M148.5 367.2h0M150.2 340.7h0M153.7 305.3h0M147.2 362.2h0M156.9 290.3h0M152.7 296.4h0M156.5 270.2h0M157.1 306.1h0M148.0 374.7h0M152.6 298.6h0M156.1 277.9h0M149.2 353.3h0M154.7 294.8h0M151.0 342.3h0M149.7 358.0h0M148.9 347.7h0M147.0 369.4h0M150.8 335.7h0M148.1 356.8h0M153.7 296.4h0M157.9 284.9h0M150.5 337.1h0M155.3 314.7h0M151.1 328.4h0M148.4 365.4h0M144.8 387.9h0M153.6 324.4h0M148.7 369.4h0M156.0 271.0h0M154.2 280.7h0M146.0 385.7h0M146.1 380.4h0M147.1 372.5h0M156.5 298.0h0M145.4 382.3h0M151.2 339.3h0M154.6 292.8h0M154.1 283.4h0M155.6 297.4h0M149.3 346.2h0M156.2 267.4h0M148.9 349.4h0M152.9 304.4h0M148.3 363.8h0M155.5 273.8h0M153.8 314.6h0M149.2 344.6h0M156.8 286.1h0M152.6 316.4h0M157.1 303.8h0M154.9 304.4h0M153.8 309.9h0M148.3 372.3h0M152.9 310.7h0M148.3 355.5h0M157.2 266.7h0M154.3 318.1h0M154.8 316.0h0M151.5 322.7h0M156.6 267.8h0M151.4 344.8h0M156.8 277.0h0M153.9 311.6h0M154.6 283.9h0M153.4 330.1h0M155.9 279.4h0M149.3 365.0h0M153.4 290.3h0M147.2 382.0h0M150.8 325.4h0M146.2 379.9h0M147.0 377.2h0M146.9 367.4h0M147.5 362.7h0M154.7 315.8h0M146.9 368.0h0M154.8 292.8h0M151.5 329.7h0M154.5 281.1h0M150.2 355.2h0M156.5 271.1h0M147.4 359.2h0M146.6 369.1h0M150.9 339.7h0M149.9 343.1h0M153.5 317.7h0M153.7 318.4h0M152.7 321.0h0M156.6 268.9h0M151.3 326.2h0M149.3 359.9h0M151.6 322.4h0M151.1 324.2h0M155.5 281.8h0M155.8 277.3h0M150.4 328.7h0M149.2 344.3h0M149.7 356.2h0M150.4 328.9h0M151.7 328.0h0M145.4 383.0h0M148.7 371.4h0M149.9 356.0h0M158.2 289.8h0M153.9 326.5h0M145.9 378.7h0M149.4 363.0h0M156.0 274.1h0M147.8 359.0h0M146.4 376.3h0M146.9 366.3h0M153.6 327.8h0M154.1 291.6h0M151.4 328.2h0M155.8 270.5h0M158.1 285.8h0M150.8 349.6h0M157.2 286.8h0M156.1 280.2h0M149.9 344.3h0M147.2 373.4h0M152.4 337.3h0M158.8 278.9h0M150.1 343.5h0M147.5 364.1h0M145.8 387.8h0M155.0 310.3h0M151.8 320.4h0M147.6 357.5h0M147.2 366.8h0M151.6 344.6h0M151.4 338.1h0M151.7 304.5h0M155.8 270.2h0M150.4 341.8h0M153.4 329.1h0M154.3 282.2h0M148.8 346.3h0M156.3 266.3h0M155.2 279.1h0M155.8 293.6h0M150.2 338.5h0M150.4 342.7h0M158.3 282.6h0M153.2 296.0h0M156.8 277.8h0M147.7 373.2h0M152.6 315.4h0M156.8 267.4h0M150.8 335.2h0M150.0 345.4h0M146.8 381.3h0M157.3 296.6h0M156.4 271.4h0M152.5 315.9h0M156.8 273.2h0M156.6 267.5h0M145.5 381.7h0M156.1 290.5h0M152.6 328.4h0M147.0 366.0h0M153.4 304.1h0M157.0 272.0h0M148.9 362.3h0M157.1 266.8h0M148.7 357.7h0M148.8 357.2h0M153.1 293.8h0M152.6 294.6h0M155.7 307.3h0M150.5 351.5h0M148.7 353.5h0M151.2 334.1h0M148.3 363.0h0M155.7 298.6h0M145.3 384.7h0M146.0 374.2h0M153.5 298.0h0M150.1 357.5h0M148.4 357.8h0M146.7 374.3h0M157.4 295.4h0M150.9 343.6h0M151.2 347.8h0M153.8 323.7h0M150.4 351.8h0M153.8 319.8h0M150.5 336.2h0M156.1 292.1h0M158.5 275.6h0M153.1 283.8h0M158.4 279.1h0M152.2 308.4h0M155.6 269.5h0M149.9 351.2h0M150.1 351.7h0M156.4 274.1h0M155.2 310.7h0M148.9 366.8h0M156.9 274.1h0M147.5 378.5h0M154.4 279.2h0M153.4 279.8h0M148.3 370.3h0M151.2 344.0h0M149.8 343.7h0M153.8 278.3h0M147.9 359.2h0M154.0 305.3h0M156.0 268.6h0M156.0 300.8h0M153.3 311.3h0M146.0 384.6h0M147.7 370.7h0M156.2 269.8h0M154.0 319.7h0M155.4 308.7h0M150.6 332.2h0M146.4 372.1h0M146.9 366.8h0M156.0 266.2h0M149.9 359.7h0M156.5 266.5h0M153.3 326.5h0M155.5 288.7h0M156.1 308.7h0M157.5 298.1h0M153.2 300.9h0M149.5 352.0h0M156.8 279.5h0M157.8 275.9h0M150.3 351.8h0M150.0 343.2h0M153.1 315.4h0M146.0 375.5h0M145.9 375.3h0M154.1 291.4h0M146.8 376.8h0M155.2 312.7h0M155.0 294.7h0M152.6 331.4h0M149.1 358.6h0M153.2 308.9h0M157.6 285.1h0M150.6 347.4h0M155.3 286.9h0M148.7 361.1h0M155.7 281.5h0M146.4 374.9h0M154.4 289.6h0M150.3 352.5h0M153.8 285.0h0M154.1 296.5h0M150.6 330.2h0M152.6 306.4h0M146.3 385.9h0M158.6 278.5h0M155.4 278.5h0M146.3 387.0h0M148.8 356.2h0M156.3 290.1h0M154.4 279.1h0M152.0 313.8h0M154.6 315.1h0M149.5 351.3h0M150.3 343.8h0M156.4 283.4h0M154.3 315.8h0M146.5 377.7h0M152.1 336.6h0M152.3 317.8h0M150.2 354.8h0M149.0 361.2h0M147.9 370.9h0M150.1 344.9h0M155.2 304.5h0M155.6 278.0h0M148.9 362.2h0M149.7 343.4h0M153.0 318.1h0M150.3 342.5h0M150.9 349.1h0M156.4 288.5h0M148.1 361.7h0M154.0 326.3h0M156.4 270.7h0M157.3 285.8h0M146.3 381.7h0M156.5 278.4h0M152.4 332.5h0M152.5 329.0h0M147.8 368.0h0M155.0 316.5h0M156.4 291.8h0M154.6 314.3h0M158.6 281.1h0M152.5 309.7h0M154.3 299.7h0M156.3 267.6h0M154.0 317.7h0M153.3 309.3h0M156.6 293.6h0M146.3 381.6h0M157.0 292.9h0M152.6 314.2h0M157.4 281.9h0M148.3 365.6h0M152.8 323.7h0M157.9 293.8h0M154.7 309.4h0M148.7 366.7h0M151.9 323.6h0M150.2 333.4h0M147.3 368.6h0M146.8 370.6h0M153.0 312.3h0M152.0 318.4h0M156.9 266.3h0M153.4 300.6h0M154.5 303.1h0M153.6 318.7h0M149.6 347.1h0M147.2 380.2h0M156.9 273.0h0M147.3 377.4h0M157.7 283.3h0M149.0 343.9h0M157.3 267.4h0M149.4 346.7h0M154.0 278.5h0M156.8 294.7h0M152.3 308.6h0M147.3 377.2h0M157.8 286.7h0M151.4 340.8h0M150.9 348.2h0M149.2 362.9h0M156.6 290.3h0M152.6 331.3h0M154.4 319.9h0M150.6 334.3h0M153.2 294.8h0M156.7 262.3h0M156.5 264.8h0M160.6 272.5h0M160.2 275.0h0M159.6 278.0h0M143.4 392.0h0M144.0 389.8h0" stroke="#640a70" stroke-width="4.4" stroke-linecap="round" fill="none"/>
<path d="M156.4 75.1h0M156.6 67.8h0M155.6 55.9h0M156.4 53.3h0M156.5 64.8h0M155.8 74.0h0M155.1 71.6h0M156.3 57.7h0M155.9 58.4h0M156.3 66.2h0M155.9 55.9h0M156.4 73.5h0M155.6 66.1h0M156.3 73.3h0M155.0 64.3h0M156.4 65.0h0M157.4 88.7h0M157.3 91.0h0M157.0 156.6h0M146.2 231.7h0M174.8 258.8h0M147.0 271.5h0M138.9 283.2h0M140.9 281.5h0M141.3 286.8h0M149.9 282.4h0M168.4 294.9h0M141.3 300.2h0M139.4 313.7h0M167.7 312.0h0M187.7 322.7h0M192.1 325.1h0M167.4 328.8h0M154.8 277.1h0M154.3 285.6h0M154.3 300.2h0M154.8 306.3h0M150.6 316.1h0M153.5 322.9h0M149.1 337.8h0M149.8 335.0h0M151.0 337.6h0M152.1 342.7h0M157.2 285.7h0M151.6 335.1h0M150.5 356.2h0M152.1 325.1h0M143.8 387.8h0M149.9 353.2h0M156.1 288.1h0M150.7 358.0h0M155.1 320.4h0M139.4 313.7h0M167.7 312.0h0M187.7 322.7h0M192.1 325.1h0M153.0 318.5h0M151.6 329.0h0M168.2 330.7h0M175.5 337.3h0M152.8 339.3h0M179.1 342.9h0M163.3 353.2h0M176.2 353.2h0M184.0 353.4h0M157.2 359.5h0M146.2 361.7h0M160.4 379.5h0M153.5 382.0h0M150.6 382.7h0M133.3 393.7h0M137.7 396.1h0M140.1 397.8h0M141.3 400.2h0M135.2 404.4h0M149.9 405.1h0M148.2 410.5h0M226.2 413.7h0M197.0 420.2h0M138.4 421.0h0M171.1 423.9h0M183.5 424.1h0M145.0 428.3h0M207.7 431.2h0M212.1 436.1h0M127.2 437.3h0M140.1 434.4h0M142.6 434.9h0M138.9 438.0h0M150.6 439.3h0M134.0 446.6h0M131.6 450.2h0M137.7 449.0h0M138.9 450.2h0M136.5 452.7h0M134.0 453.9h0M155.5 449.0h0M126.0 458.0h0M128.4 458.8h0M134.0 457.6h0M167.7 464.4h0M172.6 471.0h0M195.0 469.3h0M245.0 469.3h0M126.8 499.2h0M126.9 506.1h0M125.5 498.2h0M125.7 506.4h0M136.2 497.2h0M120.1 511.3h0M134.6 500.5h0M128.5 492.4h0M120.8 508.6h0M123.7 493.7h0M121.0 504.0h0M127.1 492.6h0M136.6 500.3h0M126.1 501.0h0M130.7 499.9h0M135.3 494.0h0M127.3 503.6h0M131.0 491.0h0M131.4 499.5h0M125.3 500.2h0M126.7 492.3h0M122.3 507.7h0M127.4 504.6h0M120.1 513.6h0M124.0 501.7h0M123.3 504.3h0M131.4 504.8h0M120.8 510.8h0M123.6 497.9h0M133.6 492.8h0M135.9 494.1h0M122.1 512.2h0M128.0 501.2h0M123.1 514.6h0M127.1 501.0h0M127.9 497.3h0M133.2 496.7h0M131.2 506.3h0M132.4 499.0h0M130.5 497.8h0M123.6 497.2h0M125.6 509.3h0M127.0 510.8h0M124.7 494.2h0M122.6 505.3h0M119.2 511.9h0M122.3 503.2h0M122.9 496.5h0M137.3 496.5h0M129.7 494.9h0M123.4 510.2h0M120.0 509.5h0M124.3 499.9h0M122.7 510.3h0M123.1 504.2h0M124.9 496.6h0M122.9 514.3h0M121.2 509.6h0M121.7 507.8h0M123.6 511.3h0M123.5 499.8h0M122.0 507.9h0M137.7 502.0h0M128.4 503.8h0M128.2 496.2h0M127.8 499.1h0M124.1 505.5h0M120.3 513.0h0M123.6 506.1h0M127.6 508.8h0M126.0 506.1h0M123.3 505.6h0M127.0 511.7h0M121.2 507.8h0M131.6 493.6h0M126.5 498.2h0M122.6 504.3h0M122.0 509.0h0M125.3 499.1h0M129.3 501.7h0M137.7 498.9h0M119.5 510.1h0M136.9 501.4h0M126.4 502.6h0M124.3 496.0h0M131.3 499.4h0M127.5 500.9h0M122.6 515.4h0M126.1 494.8h0M125.3 492.8h0M119.7 511.1h0M128.6 507.1h0M123.5 504.6h0M126.1 512.9h0M127.6 506.5h0M125.1 497.1h0M122.0 511.2h0M135.6 491.2h0M130.4 490.8h0M130.9 503.2h0M130.1 491.2h0M131.2 497.7h0M128.3 492.5h0M123.7 513.9h0M123.5 505.0h0M126.6 511.9h0M123.9 509.5h0M119.6 509.0h0M122.5 500.7h0M120.1 512.0h0M123.0 497.3h0M134.3 495.3h0M124.6 508.4h0M120.4 507.9h0M122.3 512.6h0M124.0 497.3h0M133.5 504.5h0M124.9 510.4h0M124.3 498.6h0M122.7 515.1h0M121.3 510.2h0M124.3 510.7h0M124.4 493.8h0M122.2 513.9h0M121.2 507.5h0M134.1 494.8h0M124.6 492.8h0M127.1 508.4h0M131.1 499.6h0M130.4 490.3h0M129.7 496.9h0M128.3 495.0h0M122.5 508.5h0M124.4 503.9h0M124.4 497.4h0M132.8 502.3h0M129.2 509.4h0M123.0 504.7h0M139.0 500.8h0M130.6 506.5h0M133.6 490.0h0M136.8 500.1h0M121.6 502.4h0M132.3 495.3h0M120.4 506.8h0M129.4 508.6h0M125.4 497.2h0M125.8 506.1h0M121.5 503.0h0M121.9 500.0h0M136.5 495.7h0M124.7 510.6h0M128.5 508.1h0M135.8 494.9h0M122.3 515.0h0M127.2 509.1h0M127.3 502.7h0M124.0 511.5h0M127.7 510.5h0M127.8 497.7h0M123.2 509.8h0M129.7 496.2h0M135.6 497.6h0M135.3 502.5h0M123.6 502.0h0M126.0 499.0h0M132.7 508.8h0M121.7 504.7h0M131.4 489.7h0M122.1 508.1h0M123.6 497.7h0M129.2 491.6h0M133.5 492.3h0M132.0 509.2h0M121.9 508.3h0M123.4 494.5h0M126.4 502.7h0M128.7 501.3h0M126.6 501.7h0M122.4 508.6h0M132.8 490.4h0M134.8 493.7h0M123.2 495.3h0M135.6 494.3h0M125.8 509.1h0M131.2 502.7h0M127.8 501.5h0M134.8 494.9h0M134.3 495.6h0M125.1 510.6h0M121.6 503.0h0M125.1 500.9h0M120.0 512.0h0M123.9 494.2h0M121.8 509.8h0M122.3 499.4h0M124.4 497.7h0M126.9 498.1h0M126.4 512.3h0M132.3 500.6h0M126.5 494.0h0M122.8 497.6h0M129.1 509.0h0M127.0 493.1h0M125.4 496.5h0M122.2 503.5h0M122.1 515.1h0M133.9 494.3h0M128.8 502.4h0M123.6 494.2h0M121.9 505.3h0M122.7 504.7h0M126.4 510.5h0M128.5 505.8h0M125.8 502.1h0M126.9 499.6h0M136.3 498.5h0M129.1 495.5h0M132.4 498.9h0M126.0 501.3h0M124.3 497.9h0M132.1 494.8h0M124.4 509.5h0M129.2 498.5h0M131.8 507.8h0M127.7 508.1h0M124.3 505.5h0M119.4 510.9h0M130.8 509.1h0M134.8 498.0h0M122.2 502.0h0M121.6 515.8h0M123.5 500.8h0M121.5 507.9h0M128.3 491.4h0M130.2 501.8h0M127.8 503.5h0M120.3 512.8h0M122.0 512.6h0M128.3 508.3h0M120.1 509.9h0M134.5 506.9h0M121.2 504.8h0M121.5 502.1h0M123.8 512.4h0M133.9 491.8h0M128.9 495.9h0M121.4 506.0h0M131.2 496.7h0M129.1 507.2h0M123.2 498.7h0M124.5 507.5h0M128.2 508.0h0M131.1 501.6h0M120.6 507.9h0M126.7 508.3h0M119.6 509.2h0M127.7 507.5h0M130.5 496.8h0M131.3 504.8h0M124.8 502.1h0M128.7 507.3h0M131.3 498.0h0M130.5 509.4h0M129.7 497.5h0M136.4 494.7h0M130.7 497.8h0M129.3 499.5h0M122.4 510.7h0M127.9 498.1h0M127.4 510.4h0M134.1 495.4h0M123.5 504.8h0M126.1 506.6h0M131.3 489.9h0M125.7 499.3h0M133.4 498.1h0M124.5 510.8h0M127.6 493.3h0M127.3 499.8h0M125.1 508.5h0M131.3 501.8h0M126.4 505.7h0M120.2 507.0h0M127.1 498.9h0M129.5 499.0h0M130.9 501.1h0M121.8 506.6h0M124.2 506.6h0M125.8 503.6h0M130.5 505.7h0M125.6 507.7h0M122.0 512.5h0M122.7 514.8h0M137.5 493.3h0M121.0 508.4h0M123.9 508.2h0M131.3 502.0h0M122.9 497.1h0M121.3 515.4h0M122.5 509.1h0M124.7 506.3h0M127.6 504.5h0M133.8 506.0h0M128.5 502.3h0M123.2 513.7h0M133.0 503.2h0M119.8 512.8h0M124.0 495.6h0M120.0 508.3h0M128.0 496.0h0M130.2 490.2h0M122.7 506.6h0M120.2 509.4h0M128.1 502.0h0M127.7 499.9h0M128.0 510.2h0M122.7 500.1h0M132.7 499.3h0M125.5 504.8h0M122.4 502.6h0M124.1 493.7h0M124.8 501.9h0M129.2 495.0h0M125.4 494.8h0M119.4 511.6h0M124.3 505.7h0M130.0 508.8h0M128.3 504.2h0M135.7 491.4h0M135.1 507.2h0M139.7 493.9h0M129.5 511.4h0M138.8 504.8h0M139.4 505.1h0M138.3 505.7h0M139.7 493.3h0M131.1 510.6h0M127.7 512.9h0M141.4 499.2h0M127.5 512.5h0M140.0 495.7h0M139.8 500.5h0M139.6 505.1h0M132.4 510.2h0M138.6 493.0h0M139.2 504.0h0M134.0 489.2h0M140.4 497.2h0M133.8 489.2h0M121.1 502.4h0M141.5 499.4h0M130.8 510.2h0M129.3 512.0h0M134.0 489.5h0M142.2 502.5h0M140.0 504.7h0M135.0 507.8h0M132.5 509.3h0M142.0 501.0h0M139.1 504.3h0M131.4 509.9h0M124.7 514.3h0M139.4 495.8h0M139.7 502.9h0M135.8 506.5h0M140.1 497.9h0M129.8 511.4h0M140.6 499.1h0M138.1 505.2h0M137.9 506.2h0M141.0 499.2h0M129.2 490.1h0M137.5 505.7h0M142.2 500.6h0M133.0 446.5h0M130.9 450.8h0M133.8 453.6h0M137.3 450.0h0M137.3 454.4h0M125.9 458.2h0M128.7 459.4h0M134.9 457.9h0M146.0 447.9h0M156.0 448.9h0M160.7 444.3h0M167.5 464.4h0M172.5 471.3h0M194.8 469.7h0M134.5 468.7h0M132.3 470.9h0M128.0 473.7h0M130.9 475.2h0M140.9 473.7h0M143.1 468.7h0M145.2 475.2h0M148.1 476.6h0M130.2 478.8h0M133.0 480.2h0M138.1 478.0h0M140.9 479.5h0M142.4 481.6h0M139.5 483.1h0M138.1 485.2h0M141.6 484.5h0M130.9 485.2h0M128.7 487.4h0M123.7 485.9h0M132.3 489.5h0M156.7 479.5h0M158.2 478.8h0M158.9 484.5h0M160.3 485.9h0M161.7 488.1h0M158.9 489.5h0M151.0 488.4h0M163.2 503.4h0M140.9 495.3h0M144.5 504.6h0M140.2 480.9h0M141.2 477.6h0M143.1 478.8h0M138.8 487.4h0M136.6 488.1h0M134.5 486.6h0M387.6 318.2h0M448.5 349.6h0M346.3 373.7h0M334.3 378.5h0M332.5 402.6h0M325.8 417.4h0M331.9 428.2h0M361.4 415.0h0M384.0 418.9h0M398.5 417.4h0M404.8 401.7h0M399.7 425.8h0M412.6 418.3h0M418.1 416.5h0M421.4 417.4h0M430.1 403.2h0M440.1 408.3h0M285.1 445.4h0M289.1 449.6h0M298.4 468.6h0M308.6 450.2h0M316.2 448.7h0M316.2 452.0h0M320.1 449.0h0M323.4 444.2h0M327.0 447.8h0M334.3 449.0h0M338.8 447.5h0M348.1 439.7h0M352.3 446.9h0M359.3 434.3h0M375.0 435.5h0M380.1 429.4h0M383.1 430.0h0M385.2 429.1h0M385.2 432.7h0M388.5 427.9h0M403.3 433.4h0M410.8 425.8h0M412.3 426.7h0M414.4 427.3h0M421.1 427.9h0M447.9 427.3h0M533.9 390.6h0M567.5 381.1h0M545.2 389.2h0M522.9 390.5h0M478.5 404.3h0M507.0 403.7h0M564.1 386.2h0M487.1 396.5h0M521.6 395.0h0M502.1 396.4h0M458.0 406.2h0M497.7 399.0h0M503.9 396.9h0M552.0 384.4h0M560.6 382.2h0M534.8 391.0h0M508.2 401.0h0M533.9 393.5h0M505.4 397.9h0M566.3 387.1h0M514.4 393.6h0M525.6 391.5h0M535.6 388.6h0M532.4 394.8h0M466.2 410.3h0M488.2 404.4h0M532.8 387.2h0M562.2 380.8h0M537.9 389.7h0M560.7 382.1h0M568.2 376.8h0M533.1 387.5h0M522.7 395.3h0M546.0 390.4h0M552.7 388.6h0M570.7 378.7h0M516.5 398.2h0M532.3 391.3h0M550.8 386.2h0M546.7 387.9h0M494.9 402.9h0M486.3 399.5h0M530.6 391.7h0M572.7 378.3h0M469.8 409.5h0M543.2 391.4h0M537.4 391.4h0M466.9 406.8h0M532.0 389.1h0M518.9 396.8h0M561.8 382.3h0M534.5 395.0h0M506.9 399.5h0M508.8 395.7h0M495.1 399.0h0M515.8 390.6h0M483.0 401.3h0M533.1 389.1h0M541.6 389.4h0M555.0 385.0h0M560.1 385.6h0M521.9 394.7h0M556.4 381.9h0M477.8 412.2h0M564.7 386.5h0M576.2 381.1h0M546.7 389.7h0M572.6 379.0h0M564.5 381.8h0M566.4 387.4h0M498.0 395.6h0M535.0 393.5h0M566.4 379.0h0M491.3 402.8h0M505.7 399.4h0M563.5 381.1h0M553.5 383.1h0M444.8 412.3h0M483.1 407.3h0M574.1 373.2h0M506.4 400.6h0M516.1 393.8h0M565.2 384.4h0M507.1 393.2h0M481.1 405.1h0M495.0 402.7h0M534.8 389.4h0M561.2 385.4h0M516.2 395.5h0M533.2 390.7h0M461.6 408.4h0M526.0 392.3h0M538.7 387.1h0M557.0 384.0h0M576.4 382.4h0M576.2 373.0h0M516.1 392.0h0M552.0 385.0h0M491.5 401.9h0M532.6 394.2h0M582.1 377.9h0M518.2 394.8h0M561.2 386.6h0M537.2 391.8h0M557.0 382.5h0M572.1 384.4h0M576.3 377.0h0M541.2 387.5h0M547.3 385.1h0M517.8 390.4h0M546.2 386.0h0M479.7 406.3h0M533.4 391.8h0M508.5 399.3h0M516.5 387.7h0M531.0 395.4h0M533.0 387.6h0M554.6 387.4h0M530.7 388.4h0M494.0 400.5h0M497.9 401.9h0M465.3 409.5h0M520.9 392.5h0M549.4 385.8h0M524.4 390.6h0M552.7 383.3h0M543.5 390.9h0M504.6 400.7h0M548.6 385.2h0M463.1 410.3h0M580.3 380.3h0M568.4 383.2h0M468.3 404.6h0M543.5 389.8h0M551.7 388.6h0M476.5 404.8h0M498.2 402.1h0M538.8 389.3h0M563.3 384.9h0M562.7 384.5h0M536.2 388.9h0M469.8 407.7h0M498.5 398.8h0M529.0 391.0h0M554.9 387.6h0M520.7 393.9h0M538.0 389.0h0M522.7 388.7h0M513.0 393.5h0M568.1 379.2h0M531.3 387.2h0M527.2 389.9h0M528.0 389.8h0M586.9 373.3h0M509.3 388.4h0M554.6 385.4h0M533.4 390.0h0M520.9 395.7h0M521.9 391.4h0M527.0 393.2h0M535.1 393.8h0M545.8 390.2h0M495.5 400.4h0M526.2 393.3h0M543.1 384.6h0M537.6 391.7h0M466.4 411.3h0M567.5 383.1h0M545.5 385.2h0M485.6 403.7h0M540.9 389.0h0M476.7 402.1h0M506.1 396.2h0M519.4 389.1h0M562.4 382.6h0M496.8 400.5h0M562.8 382.7h0M507.2 396.1h0M518.9 393.7h0M567.0 382.0h0M531.5 391.0h0M534.8 391.0h0M568.7 380.3h0M560.8 377.5h0M542.4 390.8h0M535.7 391.0h0M521.0 394.1h0M559.9 384.9h0M542.5 387.2h0M560.7 386.9h0M487.6 400.8h0M564.7 380.9h0M553.3 388.4h0M529.4 390.7h0M511.2 391.8h0M575.7 385.9h0M583.7 380.7h0M542.0 386.4h0M565.1 376.2h0M553.0 388.5h0M506.9 394.4h0M490.8 405.2h0M503.5 398.8h0M565.1 383.8h0M586.0 378.6h0M548.6 383.4h0M544.0 384.4h0M484.8 404.5h0M501.7 397.2h0M541.9 390.9h0M501.7 399.3h0M551.6 392.2h0M568.6 381.9h0M527.7 390.1h0M556.5 385.4h0M527.2 390.1h0M536.3 392.2h0M548.2 387.0h0M542.5 384.5h0M531.2 392.5h0M513.8 400.1h0M550.8 388.7h0M522.8 394.1h0M544.4 382.0h0M554.0 386.2h0M570.2 380.9h0M524.4 393.8h0M479.4 399.5h0M536.1 394.2h0M513.0 398.5h0M517.0 394.0h0M540.5 394.4h0M508.6 396.9h0M553.4 383.5h0M537.6 390.0h0M580.1 374.3h0M544.6 383.7h0M534.5 391.3h0M507.0 395.5h0M554.9 390.3h0M574.7 378.6h0M518.9 391.0h0M545.4 383.1h0M548.7 380.7h0M517.7 394.5h0M551.5 386.9h0M522.1 392.7h0M528.3 392.6h0M563.8 381.9h0M549.7 391.5h0M542.0 386.5h0M543.1 386.8h0M535.9 393.6h0M514.7 394.7h0M564.8 380.5h0M541.2 386.6h0M489.0 404.5h0M525.4 398.6h0M553.4 386.2h0M501.1 402.3h0M553.5 382.9h0M517.8 392.9h0M497.7 401.0h0M510.1 401.2h0M480.6 401.7h0M581.0 380.6h0M517.9 387.8h0M546.6 391.9h0M525.0 391.0h0M489.0 403.4h0M526.3 391.5h0M526.6 391.2h0M492.2 398.9h0M542.4 386.6h0M551.7 383.4h0M475.2 407.3h0M497.8 395.7h0M486.7 398.7h0M577.3 381.8h0M532.1 389.4h0M542.9 386.7h0M546.7 389.8h0M527.4 388.5h0M482.8 405.2h0M526.1 392.0h0M530.9 393.1h0M545.2 384.0h0M542.7 387.6h0M521.5 395.8h0M451.4 411.5h0M534.6 389.3h0M519.3 391.4h0M513.5 396.0h0M559.6 389.3h0M506.3 394.4h0M485.5 401.6h0M547.6 377.7h0M565.3 380.5h0M564.5 382.5h0M554.2 386.7h0M481.3 403.3h0M545.4 385.7h0M469.1 412.5h0M530.1 394.7h0M524.2 398.3h0M499.6 398.4h0M545.5 384.9h0M510.2 398.9h0M499.8 398.5h0M494.5 403.0h0M560.8 380.7h0M554.3 388.0h0M543.4 392.3h0M568.5 387.9h0M557.1 381.7h0M540.5 393.9h0M462.2 405.5h0M532.6 394.2h0M571.2 382.4h0M578.5 373.3h0M513.5 395.9h0M553.1 385.4h0M477.2 401.7h0M473.6 406.0h0M540.1 389.4h0M502.1 396.5h0M550.7 385.6h0M509.5 396.7h0M570.5 380.6h0M524.3 395.5h0M562.3 384.3h0M542.4 385.4h0M460.9 412.0h0M539.9 390.1h0M487.1 408.4h0M494.1 402.3h0M469.4 408.2h0M507.1 398.0h0M535.5 388.7h0M530.1 389.4h0M512.4 394.7h0M539.1 388.4h0M442.0 416.0h0M533.4 389.6h0M494.5 398.4h0M540.5 389.6h0M551.4 390.7h0M524.7 385.9h0M533.0 389.2h0M529.5 393.7h0M576.5 384.3h0M511.3 398.1h0M537.0 389.2h0M528.4 396.8h0M509.9 396.4h0M479.3 404.6h0M565.0 385.2h0M542.7 389.8h0M463.9 410.4h0M574.1 379.3h0M522.6 389.8h0M477.4 402.9h0M529.3 391.7h0M547.7 381.5h0M543.5 390.2h0M529.6 393.9h0M465.3 408.3h0M534.3 389.0h0M504.9 402.0h0M538.8 395.8h0M547.5 383.8h0M560.7 381.1h0M471.6 405.0h0M536.9 391.2h0M518.8 396.4h0M505.1 396.8h0M566.4 381.5h0M516.7 391.7h0M547.6 389.9h0M499.8 403.3h0M553.8 391.5h0M559.5 387.0h0M459.6 413.3h0M555.1 390.8h0M507.8 398.5h0M502.4 394.7h0M544.1 386.4h0M558.3 385.1h0M546.3 387.4h0M543.7 391.2h0M443.6 413.6h0M467.9 410.4h0M432.0 416.7h0M469.4 409.9h0M469.7 410.5h0M433.8 416.5h0M436.7 417.4h0M469.7 409.1h0M468.6 403.9h0M456.9 414.1h0M431.1 418.5h0M469.1 406.1h0M433.6 418.7h0M449.6 410.5h0M435.7 411.7h0M451.4 412.0h0M469.2 402.1h0M433.6 415.2h0M458.9 405.8h0M442.1 411.2h0M447.4 413.5h0M443.6 412.0h0M463.6 407.0h0M428.7 415.4h0M460.1 408.0h0M444.2 414.5h0M433.8 418.6h0M468.6 403.7h0M456.3 411.8h0M469.8 409.1h0M428.0 417.0h0M435.2 417.1h0M439.6 414.1h0M464.4 407.8h0M446.1 413.6h0M450.0 413.1h0M442.7 412.8h0M442.9 413.9h0M640.9 377.5h0M631.2 382.9h0M614.4 382.9h0M608.1 379.3h0M602.1 375.3h0M591.2 377.9h0M588.6 374.2h0M581.6 375.3h0M575.6 373.8h0M565.5 372.2h0M557.9 372.8h0M597.7 388.7h0M601.1 391.7h0M603.7 388.3h0M581.6 392.3h0M575.6 394.7h0M568.9 396.4h0M567.1 400.0h0M563.5 402.4h0M547.0 407.8h0M530.4 411.8h0M524.9 407.8h0M515.3 416.6h0M510.3 412.4h0M504.7 412.4h0M452.0 421.5h0M460.0 417.9h0M530.4 377.5h0M508.3 384.3h0M536.4 382.3h0M489.2 393.3h0M472.5 395.7h0M457.0 401.4h0M582.6 380.3h0M583.6 384.3h0M578.6 386.3h0M574.6 382.3h0M570.6 379.3h0M578.6 378.3h0M581.6 381.3h0" stroke="#000" stroke-width="2.9" stroke-linecap="round" fill="none"/>
<rect x="94.7" y="31.0" width="571.8" height="507.8" fill="none" stroke="#161616" stroke-width="1.5"/>
<path d="M140.8 538.8v9.6M94.7 461.1h-9.9M256.2 538.8v9.6M94.7 373.7h-9.9M371.7 538.8v9.6M94.7 286.3h-9.9M487.2 538.8v9.6M94.7 198.8h-9.9M602.7 538.8v9.6M94.7 111.4h-9.9" stroke="#333" stroke-width="1.2" fill="none"/>
<text class="tk" x="140.8" y="569.5">−0.01</text>
<text class="tk" x="256.2" y="569.5">0.00</text>
<text class="tk" x="371.7" y="569.5">0.01</text>
<text class="tk" x="487.2" y="569.5">0.02</text>
<text class="tk" x="602.7" y="569.5">0.03</text>
<text class="tk" transform="translate(67.8 461.1) rotate(-90)">−0.01</text>
<text class="tk" transform="translate(67.8 373.7) rotate(-90)">0.00</text>
<text class="tk" transform="translate(67.8 286.3) rotate(-90)">0.01</text>
<text class="tk" transform="translate(67.8 198.8) rotate(-90)">0.02</text>
<text class="tk" transform="translate(67.8 111.4) rotate(-90)">0.03</text>
<text class="ax" x="225.4" y="618.8" textLength="292.2" lengthAdjust="spacingAndGlyphs">Principal component 1</text>
<text class="ax" transform="translate(23.1 430.9) rotate(-90)" textLength="300.6" lengthAdjust="spacingAndGlyphs" xml:space="preserve" style="white-space:pre">Principal component  2</text>
<text class="lg" x="751.2" y="18.6" textLength="539.2" lengthAdjust="spacingAndGlyphs">1000 Genomes Populations and HBCC samples</text>
<rect x="753" y="23.3" width="536.8" height="1.7" fill="#000"/>
<rect x="752.3" y="56.3" width="26.3" height="25.6" fill="#ffff00"/>
<text class="lg" x="792.4" y="76.4" textLength="254.8" lengthAdjust="spacingAndGlyphs">African ancestry (AFR)</text>
<rect x="752.3" y="90.6" width="26.3" height="25.6" fill="#0000ff"/>
<text class="lg" x="792.4" y="110.7" textLength="286.3" lengthAdjust="spacingAndGlyphs">European ancestry (EUR)</text>
<rect x="752.3" y="124.9" width="26.3" height="25.6" fill="#ff0000"/>
<text class="lg" x="792.4" y="144.2" textLength="401.8" lengthAdjust="spacingAndGlyphs">Admixed American ancestry (AMR)</text>
<rect x="752.3" y="159.1" width="26.3" height="25.6" fill="#00b00f"/>
<text class="lg" x="792.4" y="178.5" textLength="287.2" lengthAdjust="spacingAndGlyphs">East Asian ancestry (EAS)</text>
<rect x="752.3" y="193.4" width="26.3" height="25.6" fill="#8218cd"/>
<text class="lg" x="792.4" y="212.8" textLength="306.5" lengthAdjust="spacingAndGlyphs">South Asian ancestry (SAS)</text>
<rect x="752.3" y="246.8" width="26.3" height="25.6" fill="#000000"/>
<text class="lg" x="792.4" y="268.1" textLength="520.1" lengthAdjust="spacingAndGlyphs">Human Brain Collection Core (HBCC) samples</text>
<text class="tb" x="996.6" y="330.6" textLength="438" lengthAdjust="spacingAndGlyphs">Ancestry assigned using genetically-derived</text>
<text class="tb" x="996.6" y="360.5" textLength="442.9" lengthAdjust="spacingAndGlyphs">variables and comparison to 1000 Genomes</text>
<rect x="739.6" y="405.0" width="290.2" height="48.6" fill="#a6a6a6"/>
<rect x="1029.8" y="405.0" width="75.6" height="48.6" fill="#ffff00"/>
<rect x="1105.4" y="405.0" width="75.9" height="48.6" fill="#0000ff"/>
<rect x="1181.3" y="405.0" width="76.1" height="48.6" fill="#ff0000"/>
<rect x="1257.4" y="405.0" width="76.0" height="48.6" fill="#00b00f"/>
<rect x="1333.4" y="405.0" width="75.6" height="48.6" fill="#8218cd"/>
<rect x="1409.0" y="405.0" width="75.7" height="48.6" fill="#d9d9d9"/>
<rect x="1029.8" y="453.6" width="75.6" height="46.7" fill="#f9f7ba"/>
<rect x="1105.4" y="500.3" width="75.9" height="49.2" fill="#dae3f3"/>
<rect x="1181.3" y="549.5" width="76.1" height="49.1" fill="#f5d9d3"/>
<rect x="1257.4" y="598.6" width="76.0" height="48.9" fill="#e2efda"/>
<rect x="1333.4" y="598.6" width="75.6" height="48.9" fill="#efe9f8"/>
<rect x="1409.0" y="647.5" width="75.7" height="48.7" fill="#d9d9d9"/>
<path d="M739.6 500.3H1484.7M739.6 549.5H1484.7M739.6 598.6H1484.7M739.6 647.5H1484.7M739.6 696.2H1484.7M1105.4 453.6V696.2M1181.3 453.6V696.2M1257.4 453.6V696.2M1333.4 453.6V696.2M1409.0 453.6V696.2M1484.7 453.6V696.2M740.0 453.6V696.2" stroke="#bfbfbf" stroke-width="1" fill="none"/>
<path d="M739.6 453.6H1485.5" stroke="#000" stroke-width="1.6" fill="none"/>
<path d="M1029.8 697.2V405.3C1029.8 394.3 1038.8 388.3 1051.8 388.3H1089.5C1101.5 388.3 1109.5 381.3 1110.5 370.2C1111.5 381.3 1119.5 388.3 1131.5 388.3H1461.7C1475.2 388.3 1485.2 394.3 1485.2 406.3" stroke="#000" stroke-width="1.6" fill="none"/>
<text class="tb" x="752.4" y="437.4" textLength="163.6" lengthAdjust="spacingAndGlyphs">Reported “race”</text>
<text class="tb" x="1042.8" y="437.3" textLength="39.6" lengthAdjust="spacingAndGlyphs">AFR</text>
<text class="tb w" x="1118.4" y="437.3" textLength="41.6" lengthAdjust="spacingAndGlyphs">EUR</text>
<text class="tb w" x="1194.5" y="437.3" textLength="49.7" lengthAdjust="spacingAndGlyphs">AMR</text>
<text class="tb" x="1269.6" y="437.3" textLength="38.2" lengthAdjust="spacingAndGlyphs">EAS</text>
<text class="tb w" x="1345.2" y="437.3" textLength="38.2" lengthAdjust="spacingAndGlyphs">SAS</text>
<text class="tb" x="1422.0" y="437.3" textLength="23.0" lengthAdjust="spacingAndGlyphs">na</text>
<text class="tb" x="752.6" y="485.4" textLength="259.7" lengthAdjust="spacingAndGlyphs">Black or African American</text>
<text class="tb" x="752.6" y="533.1" textLength="191.3" lengthAdjust="spacingAndGlyphs">Caucasian or white</text>
<text class="tb" x="752.6" y="582.0" textLength="85.9" lengthAdjust="spacingAndGlyphs">Hispanic</text>
<text class="tb" x="752.6" y="630.8" textLength="213.8" lengthAdjust="spacingAndGlyphs">Asian or Asian Pacific</text>
<text class="tb" x="752.6" y="679.7" textLength="59.0" lengthAdjust="spacingAndGlyphs">Other</text>
<text class="nm" x="1067.6" y="486.5">414</text>
<text class="nm" x="1143.3" y="486.5">2</text>
<text class="nm" x="1219.3" y="486.5">2</text>
<text class="nm" x="1295.4" y="486.5">-</text>
<text class="nm" x="1371.2" y="486.5">1</text>
<text class="nm" x="1446.8" y="486.5">25</text>
<text class="nm" x="1067.6" y="533.2">-</text>
<text class="nm" x="1143.3" y="533.2">855</text>
<text class="nm" x="1219.3" y="533.2">25</text>
<text class="nm" x="1295.4" y="533.2">1</text>
<text class="nm" x="1371.2" y="533.2">1</text>
<text class="nm" x="1446.8" y="533.2">23</text>
<text class="nm" x="1067.6" y="582.3">1</text>
<text class="nm" x="1143.3" y="582.3">5</text>
<text class="nm" x="1219.3" y="582.3">29</text>
<text class="nm" x="1295.4" y="582.3">-</text>
<text class="nm" x="1371.2" y="582.3">-</text>
<text class="nm" x="1446.8" y="582.3">2</text>
<text class="nm" x="1067.6" y="631.4">-</text>
<text class="nm" x="1143.3" y="631.4">-</text>
<text class="nm" x="1219.3" y="631.4">-</text>
<text class="nm" x="1295.4" y="631.4">19</text>
<text class="nm" x="1371.2" y="631.4">5</text>
<text class="nm" x="1446.8" y="631.4">4</text>
<text class="nm" x="1067.6" y="680.0">1</text>
<text class="nm" x="1143.3" y="680.0">-</text>
<text class="nm" x="1219.3" y="680.0">-</text>
<text class="nm" x="1295.4" y="680.0">-</text>
<text class="nm" x="1371.2" y="680.0">-</text>
<text class="nm" x="1446.8" y="680.0">3</text>
</svg></body></html>
